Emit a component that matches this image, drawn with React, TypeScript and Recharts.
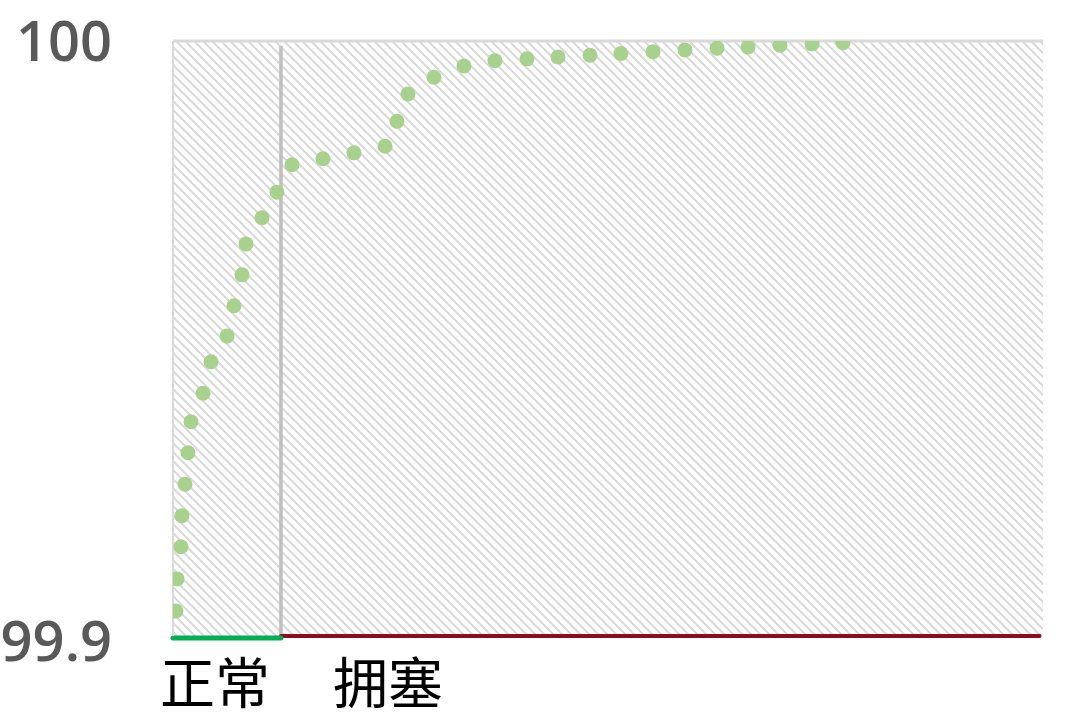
import React from 'react'
import { ComposedChart, Line, XAxis, YAxis, ReferenceArea, ReferenceLine } from 'recharts'

// dot positions: x on a 0..100 scale, y in percent
const dotX = [
  0.34, 0.46, 0.92, 1.03, 1.38, 1.72, 2.07, 3.45, 4.37, 6.21, 7.01, 7.93, 8.39, 10.23, 11.95,
  13.68, 17.24, 20.8, 24.37, 25.75, 27.01, 30.0, 33.45, 37.01, 40.69, 44.25, 47.93, 51.49,
  55.17, 58.85, 62.53, 66.09, 69.77, 73.45, 77.01,
]
const dotY = [
  99.9042, 99.9096, 99.915, 99.9202, 99.9255, 99.9308, 99.936, 99.9408, 99.9461, 99.9504,
  99.9555, 99.9607, 99.9659, 99.9703, 99.9746, 99.9792, 99.9802, 99.9812, 99.9823, 99.9865,
  99.9911, 99.9939, 99.9958, 99.9967, 99.997, 99.9973, 99.9976, 99.9979, 99.9982, 99.9985,
  99.9988, 99.999, 99.9993, 99.9995, 99.9997,
]

const yTicks = [99.9, 100]
const yTickLabels = ['99.9', '100']

const stateLabels = ['正常', '拥塞']
const stateLabelPos = [4.83, 24.71]

const xMin = 0
const xMax = 100
const congestionStart = 12.41
const dividerTop = 99.99916

const data = dotX.map((x, i) => ({ x, y: dotY[i] }))

function YTick(props: any) {
  const { x, y, payload, index } = props
  const shift = payload.value < 100 ? 5 : 0
  return (
    <text
      x={x}
      y={y + shift}
      dy="0.355em"
      textAnchor="end"
      fill="#595959"
      fontSize={56}
      fontWeight={600}
      fontFamily="'Open Sans', sans-serif"
    >
      {yTickLabels[index]}
    </text>
  )
}

export default function App() {
  return (
    <div style={{ position: 'absolute', left: 0, top: 0, width: 1080, height: 724, background: '#fff' }}>
      <ComposedChart width={1080} height={724} data={data} margin={{ top: 41, right: 37, bottom: 0, left: 0 }}>
        <defs>
          <pattern id="hatch" width="9" height="9" patternUnits="userSpaceOnUse">
            <path d="M-2,-2 L11,11 M-2,7 L2,11 M7,-2 L11,2" stroke="#d9d9d9" strokeWidth={2} />
          </pattern>
        </defs>
        <XAxis
          dataKey="x"
          type="number"
          domain={[xMin, xMax]}
          ticks={stateLabelPos}
          interval={0}
          tickFormatter={(_v: number, i: number) => stateLabels[i]}
          axisLine={false}
          tickLine={false}
          tickSize={0}
          tickMargin={28}
          height={88}
          allowDataOverflow
          tick={{ fill: '#000', fontSize: 55, fontFamily: "'Noto Sans CJK SC', sans-serif" }}
        />
        <YAxis
          type="number"
          domain={[99.9, 100]}
          ticks={yTicks}
          interval={0}
          width={173}
          tickSize={0}
          tickMargin={61}
          tickLine={false}
          axisLine={{ stroke: '#d9d9d9', strokeWidth: 2 }}
          allowDataOverflow
          tick={<YTick />}
        />
        <ReferenceArea x1={xMin} x2={xMax} y1={99.9} y2={100} fill="url(#hatch)" fillOpacity={1} stroke="none" />
        <ReferenceLine y={100} stroke="#d9d9d9" strokeWidth={3} />
        <ReferenceLine
          segment={[{ x: congestionStart, y: dividerTop }, { x: congestionStart, y: 99.9 }]}
          stroke="#bfbfbf"
          strokeWidth={3.5}
        />
        <ReferenceLine
          segment={[{ x: congestionStart, y: 99.9 }, { x: 99.6, y: 99.9 }]}
          stroke="#8c0b1f"
          strokeWidth={4}
          strokeLinecap="round"
          ifOverflow="visible"
        />
        <ReferenceLine
          segment={[{ x: xMin, y: 99.9 }, { x: congestionStart, y: 99.9 }]}
          stroke="#00b050"
          strokeWidth={5}
          strokeLinecap="round"
          ifOverflow="visible"
          transform="translate(0,2)"
        />
        <Line
          dataKey="y"
          type="linear"
          stroke="none"
          dot={{ r: 7.5, fill: '#a9d18e', stroke: 'none' }}
          activeDot={false}
          isAnimationActive={false}
        />
      </ComposedChart>
    </div>
  )
}
